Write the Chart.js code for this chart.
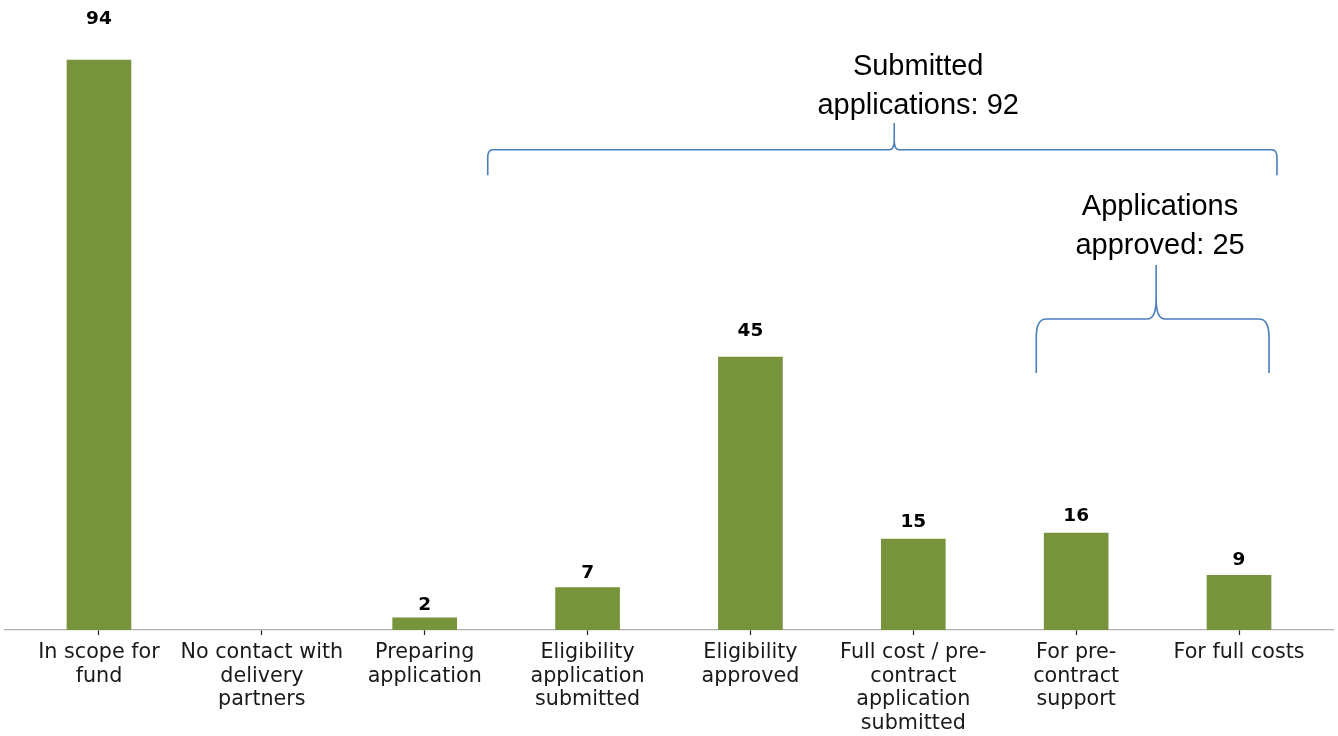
<!DOCTYPE html>
<html>
<head>
<meta charset="utf-8">
<script src="https://cdn.jsdelivr.net/npm/chart.js@4.4.1/dist/chart.umd.min.js"></script>
<style>
    html, body { margin: 0; padding: 0; background: #fff; }
    #wrap { width: 1338px; height: 736px; position: relative; }
</style>
</head>
<body>
<div id="wrap"><canvas id="chart"></canvas></div>
<script>
const categories = [
    ['In scope for', 'fund'],
    ['No contact with', 'delivery', 'partners'],
    ['Preparing', 'application'],
    ['Eligibility', 'application', 'submitted'],
    ['Eligibility', 'approved'],
    ['Full cost / pre-', 'contract', 'application', 'submitted'],
    ['For pre-', 'contract', 'support'],
    ['For full costs'],
];
const counts = [94, null, 2, 7, 45, 15, 16, 9];

const barColor = '#77933c';
const braceColor = '#4a7ebb';

// braces + their captions, placed in axis units
const braces = [
    { from: 2.387, to: 7.233, tip: 4.883, leg: 75.0, bar: 79.2, top: 83.6, corner: [5, 8], tipCurve: [5, 9],
      text: ['Submitted', 'applications: 92'], textX: 5.03, textY: [92.9, 86.4] },
    { from: 5.755, to: 7.184, tip: 6.491, leg: 42.4, bar: 51.3, top: 60.2, corner: [10, 18], tipCurve: [9, 20],
      text: ['Applications', 'approved: 25'], textX: 6.515, textY: [69.8, 63.3] },
];

const valueLabels = {
    id: 'valueLabels',
    afterDatasetsDraw(chart) {
        const { ctx, scales: { x, y } } = chart;
        ctx.save();
        ctx.font = 'bold 18.5px "DejaVu Sans"';
        ctx.fillStyle = '#000';
        ctx.textAlign = 'center';
        ctx.textBaseline = 'middle';
        counts.forEach(function(v, i) {
            if (v === null) return;
            ctx.fillText(String(v), x.getPixelForValue(i), y.getPixelForValue(v * 1.05 + 2));
        });
        ctx.restore();
    }
};

const bracePlugin = {
    id: 'braces',
    afterDraw(chart) {
        const { ctx, scales: { x, y } } = chart;
        ctx.save();
        braces.forEach(function(b) {
            const x0 = x.getPixelForValue(b.from), x1 = x.getPixelForValue(b.to), xt = x.getPixelForValue(b.tip);
            const yl = y.getPixelForValue(b.leg), yb = y.getPixelForValue(b.bar), yt = y.getPixelForValue(b.top);
            const cx = b.corner[0], cy = b.corner[1], tx = b.tipCurve[0], ty = b.tipCurve[1];
            ctx.strokeStyle = braceColor;
            ctx.lineWidth = 1.6;
            ctx.beginPath();
            ctx.moveTo(x0, yl);
            ctx.lineTo(x0, yb + cy);
            ctx.quadraticCurveTo(x0, yb, x0 + cx, yb);
            ctx.lineTo(xt - tx, yb);
            ctx.quadraticCurveTo(xt, yb, xt, yb - ty);
            ctx.lineTo(xt, yt);
            ctx.moveTo(xt, yb - ty);
            ctx.quadraticCurveTo(xt, yb, xt + tx, yb);
            ctx.lineTo(x1 - cx, yb);
            ctx.quadraticCurveTo(x1, yb, x1, yb + cy);
            ctx.lineTo(x1, yl);
            ctx.stroke();

            ctx.font = '29px "Liberation Sans", Arial, sans-serif';
            ctx.fillStyle = '#000';
            ctx.textAlign = 'center';
            ctx.textBaseline = 'middle';
            b.text.forEach(function(t, k) {
                ctx.fillText(t, x.getPixelForValue(b.textX), y.getPixelForValue(b.textY[k]));
            });
        });
        ctx.restore();
    }
};

new Chart(document.getElementById('chart'), {
    type: 'bar',
    data: {
        datasets: [{
            data: counts.map(function(v, i) { return { x: i, y: v }; }),
            backgroundColor: barColor,
            barThickness: 64,
            borderWidth: 0,
        }],
    },
    options: {
        responsive: true,
        maintainAspectRatio: false,
        animation: false,
        layout: { padding: { top: 0, left: 5, right: 5, bottom: 0 } },
        plugins: { legend: { display: false }, tooltip: { enabled: false } },
        scales: {
            x: {
                type: 'linear',
                offset: false,
                min: -0.577,
                max: 7.577,
                afterBuildTicks: function(s) { s.ticks = categories.map(function(_, i) { return { value: i }; }); },
                afterFit: function(s) { s.height = 106; },
                grid: { offset: false, drawOnChartArea: false, drawTicks: true, tickLength: 5, tickColor: '#222', tickWidth: 1.2 },
                border: { display: true, color: '#b0b0b0', width: 1.2 },
                ticks: {
                    autoSkip: false, maxRotation: 0, minRotation: 0, padding: 6, color: '#1a1a1a',
                    font: { family: '"DejaVu Sans"', size: 20.7, lineHeight: 1.14 },
                    callback: function(v) { return categories[v]; },
                },
            },
            y: { display: false, min: 0, max: 103.9 },
        },
    },
    plugins: [valueLabels, bracePlugin],
});
</script>
</body>
</html>
